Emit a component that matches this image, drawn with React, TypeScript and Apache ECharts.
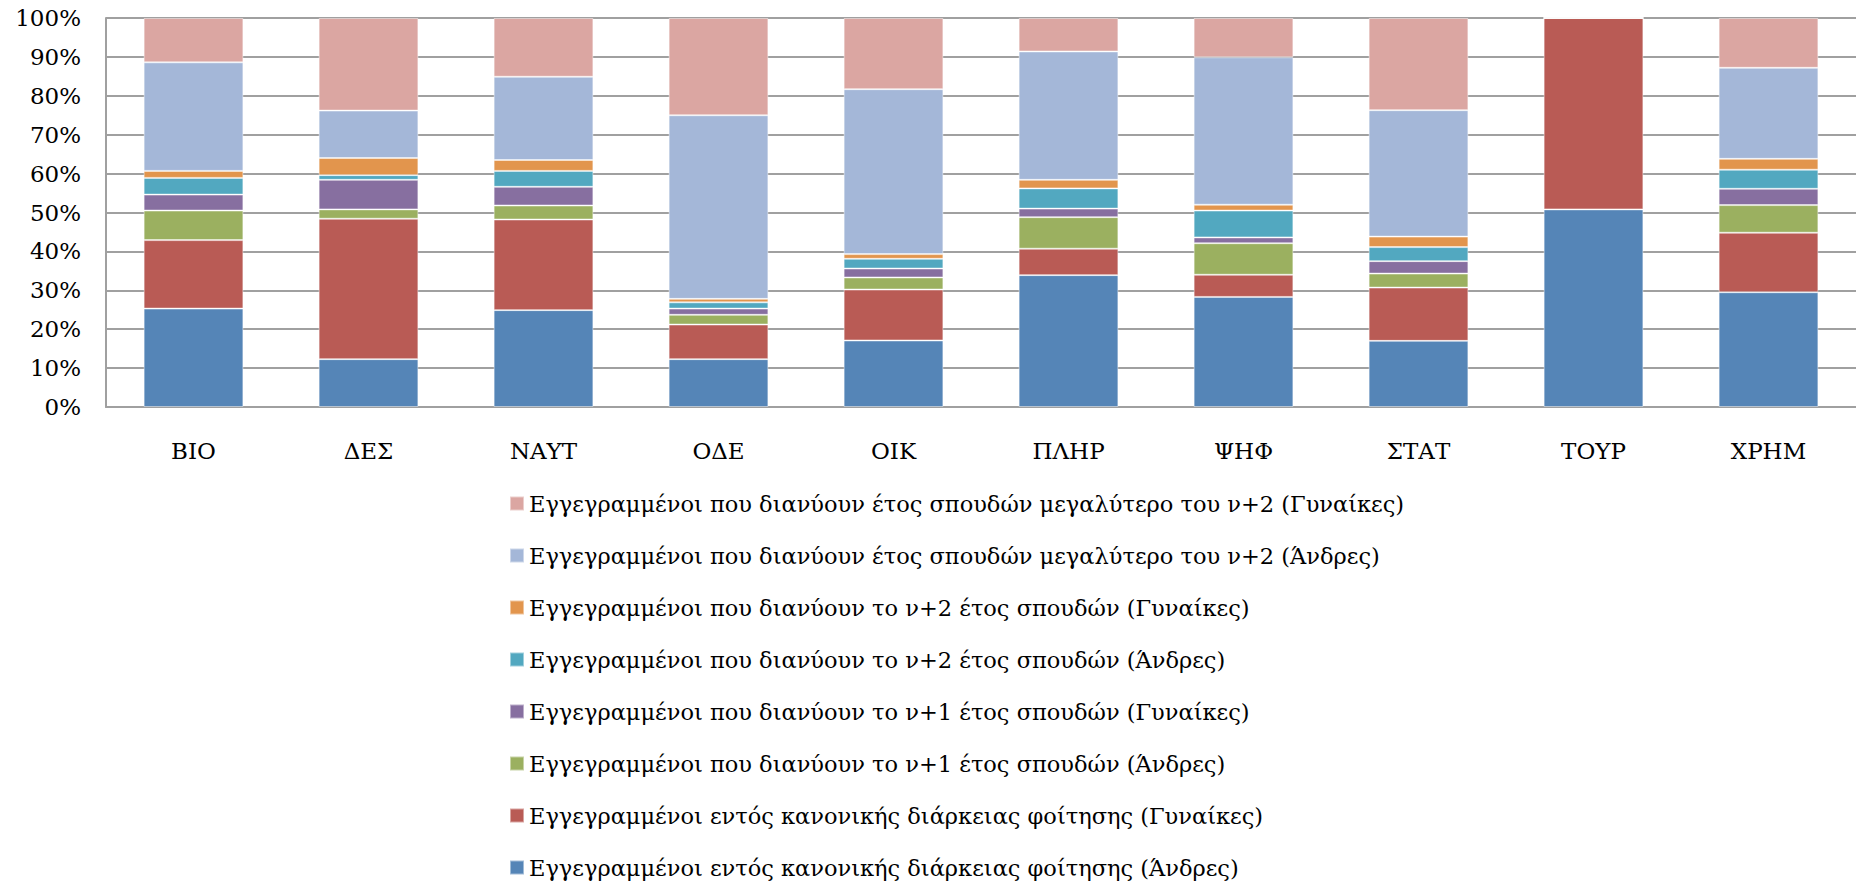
import React, { useEffect, useRef } from "react";
import * as echarts from "echarts";

const categories = ["ΒΙΟ", "ΔΕΣ", "ΝΑΥΤ", "ΟΔΕ", "ΟΙΚ", "ΠΛΗΡ", "ΨΗΦ", "ΣΤΑΤ", "ΤΟΥΡ", "ΧΡΗΜ"];

const seriesNames = [
  "Εγγεγραμμένοι εντός κανονικής διάρκειας φοίτησης (Άνδρες)",
  "Εγγεγραμμένοι εντός κανονικής διάρκειας φοίτησης (Γυναίκες)",
  "Εγγεγραμμένοι που διανύουν το ν+1 έτος σπουδών (Άνδρες)",
  "Εγγεγραμμένοι που διανύουν το ν+1 έτος σπουδών (Γυναίκες)",
  "Εγγεγραμμένοι που διανύουν το ν+2 έτος σπουδών (Άνδρες)",
  "Εγγεγραμμένοι που διανύουν το ν+2 έτος σπουδών (Γυναίκες)",
  "Εγγεγραμμένοι που διανύουν έτος σπουδών μεγαλύτερο του ν+2 (Άνδρες)",
  "Εγγεγραμμένοι που διανύουν έτος σπουδών μεγαλύτερο του ν+2 (Γυναίκες)",
];

const normalMen = [25.3, 12.3, 24.9, 12.3, 17.1, 33.9, 28.3, 17.0, 50.8, 29.5];
const normalWomen = [17.6, 36.1, 23.3, 8.9, 13.1, 6.8, 5.7, 13.7, 49.2, 15.3];
const n1Men = [7.6, 2.4, 3.6, 2.5, 3.1, 8.1, 8.1, 3.6, 0, 7.1];
const n1Women = [4.1, 7.6, 4.8, 1.6, 2.3, 2.2, 1.5, 3.2, 0, 4.2];
const n2Men = [4.3, 1.2, 4.1, 1.6, 2.5, 5.2, 6.9, 3.6, 0, 4.9];
const n2Women = [1.8, 4.4, 2.8, 0.9, 1.2, 2.2, 1.5, 2.7, 0, 2.8];
const overMen = [27.9, 12.2, 21.4, 47.2, 42.4, 33.0, 37.9, 32.5, 0, 23.4];
const overWomen = [11.4, 23.8, 15.1, 25.0, 18.3, 8.6, 10.1, 23.7, 0, 12.8];

const seriesData = [normalMen, normalWomen, n1Men, n1Women, n2Men, n2Women, overMen, overWomen];

const colors = ["#5585B7", "#B95B55", "#9BB060", "#876FA0", "#52A8C0", "#E2954D", "#A4B7D8", "#DBA6A2"];

const yTicks = { min: 0, max: 100, interval: 10 };

export default function App() {
  const ref = useRef<HTMLDivElement>(null);
  useEffect(() => {
    if (!ref.current) return;
    const chart = echarts.init(ref.current, null, { renderer: "svg" });
    const font = "'DejaVu Serif', serif";
    chart.setOption({
      animation: false,
      backgroundColor: "#ffffff",
      color: colors,
      grid: { left: 106, right: 0, top: 18, bottom: 478, containLabel: false },
      xAxis: {
        type: "category",
        data: categories,
        axisLine: { show: true, lineStyle: { color: "#a0a0a0", width: 2 } },
        axisTick: { show: false },
        axisLabel: { color: "#000", fontFamily: font, fontSize: 23, margin: 32 },
      },
      yAxis: {
        type: "value",
        min: yTicks.min,
        max: yTicks.max,
        interval: yTicks.interval,
        axisLine: { show: true, lineStyle: { color: "#a0a0a0", width: 2 } },
        axisTick: { show: false },
        splitLine: { show: true, lineStyle: { color: "#a0a0a0", width: 2 } },
        axisLabel: { color: "#000", fontFamily: font, fontSize: 23, margin: 25, formatter: "{value}%" },
      },
      legend: {
        orient: "vertical",
        left: 504,
        top: 487,
        height: 396,
        itemWidth: 14,
        itemHeight: 14,
        itemGap: 29,
        icon: "rect",
        selectedMode: false,
        data: seriesNames.slice().reverse(),
        textStyle: { color: "#000", fontFamily: font, fontSize: 22.5, lineHeight: 23 },
      },
      series: seriesNames.map((name, i) => ({
        name,
        type: "bar",
        stack: "total",
        barWidth: "57%",
        data: seriesData[i],
        itemStyle: { color: colors[i], borderColor: "rgba(255,255,255,0.45)", borderWidth: 1 },
      })),
    });
    return () => chart.dispose();
  }, []);
  return <div ref={ref} style={{ position: "fixed", left: 0, top: 0, width: "1856px", height: "885px" }} />;
}
